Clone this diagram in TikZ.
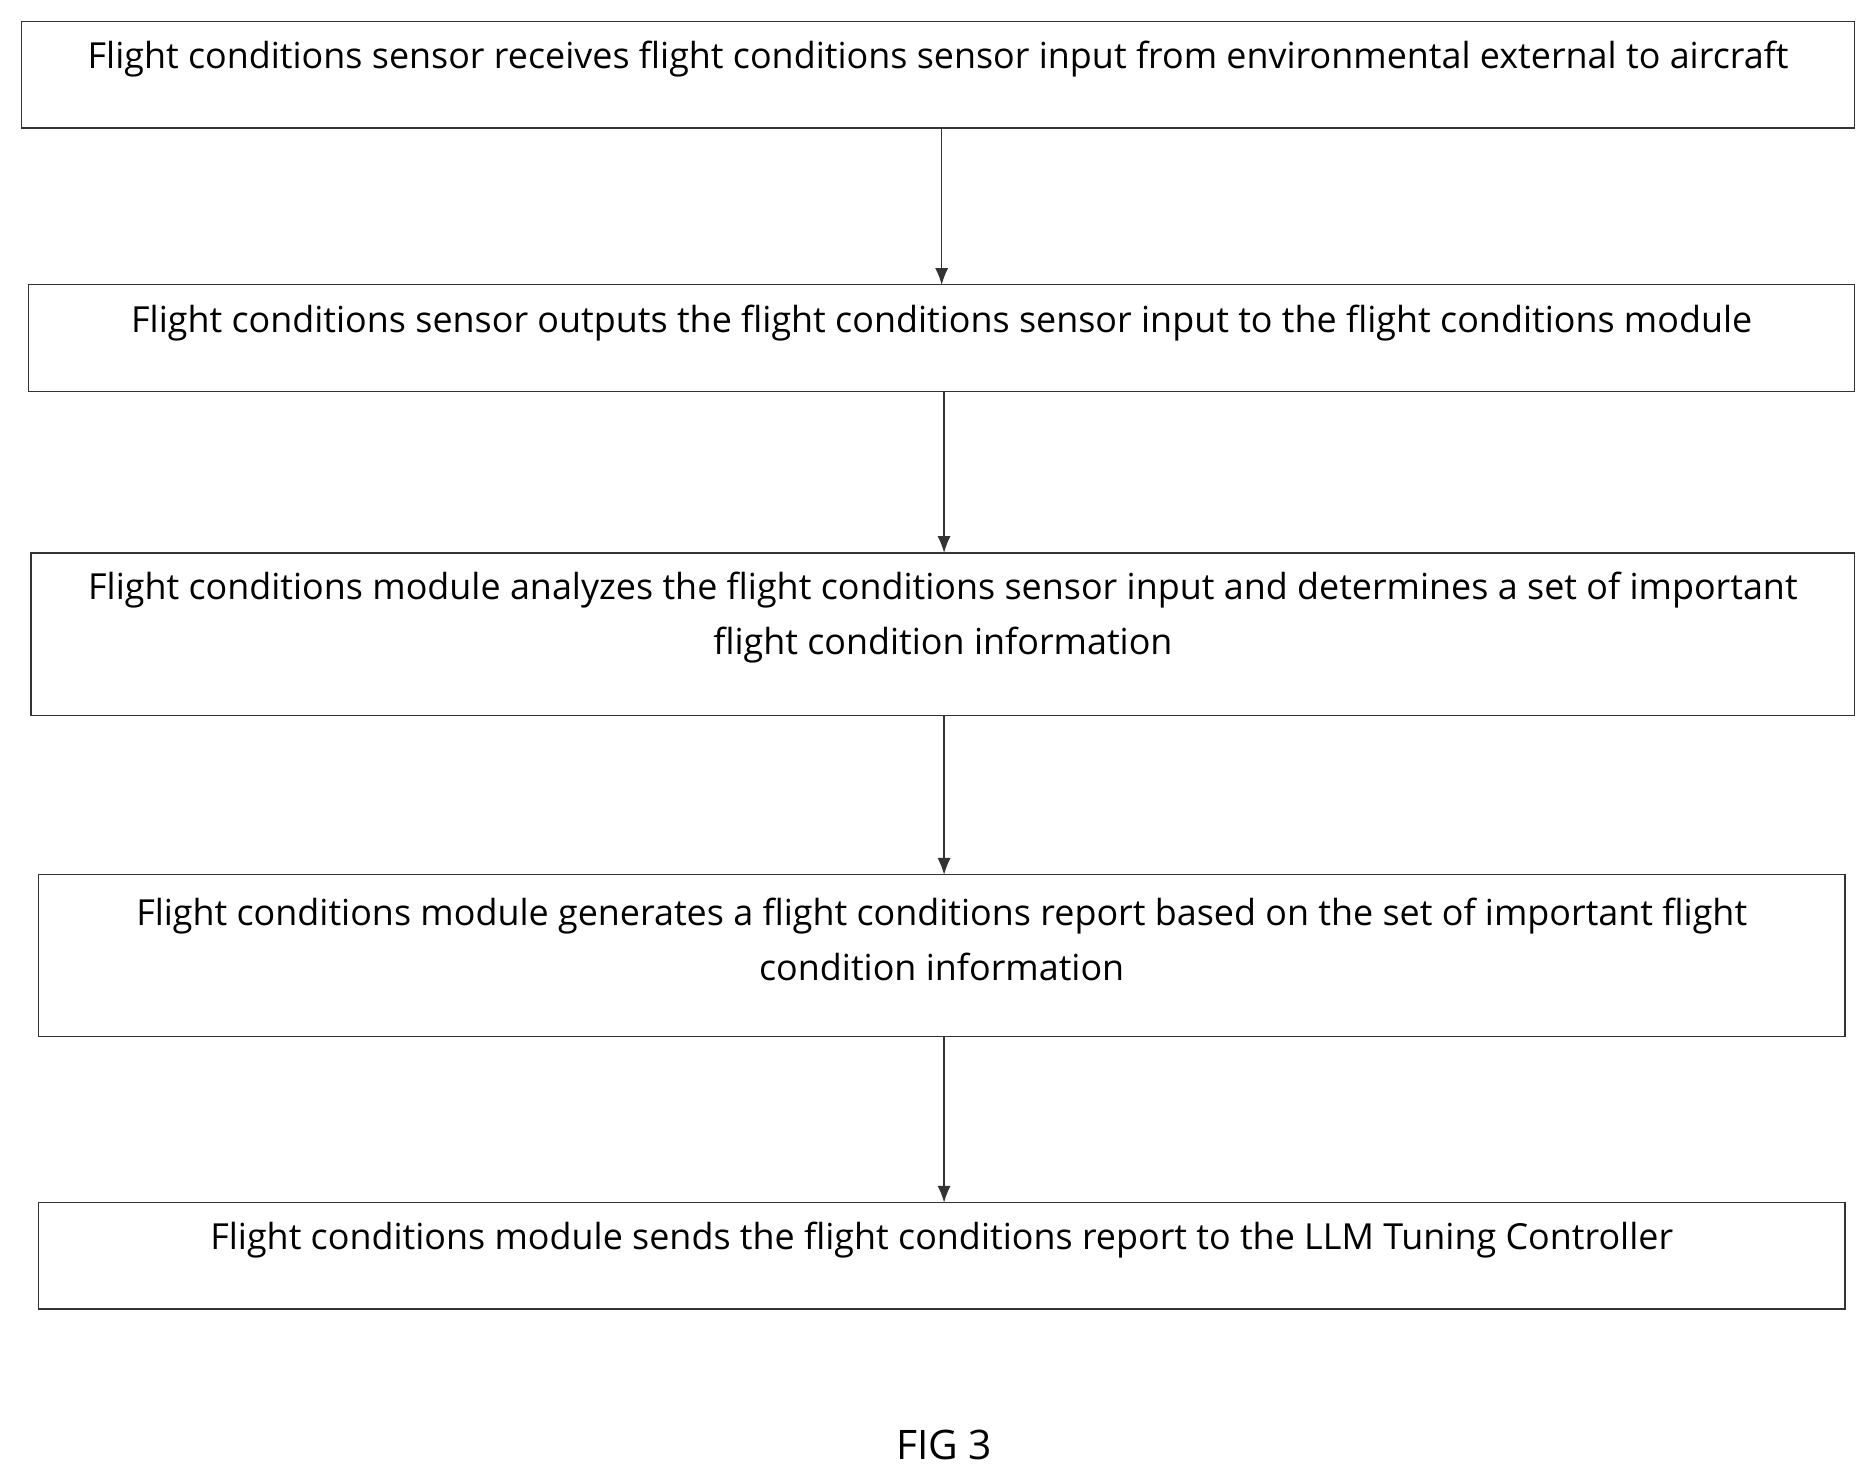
\documentclass[tikz,border=0pt]{standalone}
\usepackage{fontspec}
\setmainfont{Open Sans}
\usetikzlibrary{arrows.meta}
\begin{document}
\begin{tikzpicture}[x=1pt,y=-1pt,
  box/.style={draw=black!80,line width=1.2pt},
  txt/.style={font=\fontsize{30}{46}\selectfont,align=center,inner sep=0},
  arr/.style={draw=black!80,line width=1pt,-{Latex[length=14pt,width=11pt]}}]
\useasboundingbox (0,0) rectangle (1567,1236);
\draw[box] (18,18) rectangle (1550,107);
\node[txt] (t1) at (784,49) {Flight conditions sensor receives flight conditions sensor input from environmental external to aircraft};
\draw[box] (24,238) rectangle (1550,327);
\node[txt] (t2) at (787,270) {Flight conditions sensor outputs the flight conditions sensor input to the flight conditions module};
\draw[box] (26,462) rectangle (1550,598);
\node[txt] (t3) at (788,516) {Flight conditions module analyzes the flight conditions sensor input and determines a set of important\\flight condition information};
\draw[box] (32,731) rectangle (1542,866);
\node[txt] (t4) at (787,785) {Flight conditions module generates a flight conditions report based on the set of important flight\\condition information};
\draw[box] (32,1005) rectangle (1542,1094);
\node[txt] (t5) at (787,1036) {Flight conditions module sends the flight conditions report to the LLM Tuning Controller};
\node[txt,font=\fontsize{34}{40}\selectfont] (fig) at (789,1208) {FIG 3};
\coordinate (a1) at (787,107); \coordinate (b1) at (787,238);
\coordinate (a2) at (789,327); \coordinate (b2) at (789,462);
\coordinate (a3) at (789,598); \coordinate (b3) at (789,731);
\coordinate (a4) at (789,866); \coordinate (b4) at (789,1005);
\draw[arr] (a1)--(b1);
\draw[arr] (a2)--(b2);
\draw[arr] (a3)--(b3);
\draw[arr] (a4)--(b4);
\end{tikzpicture}
\end{document}
